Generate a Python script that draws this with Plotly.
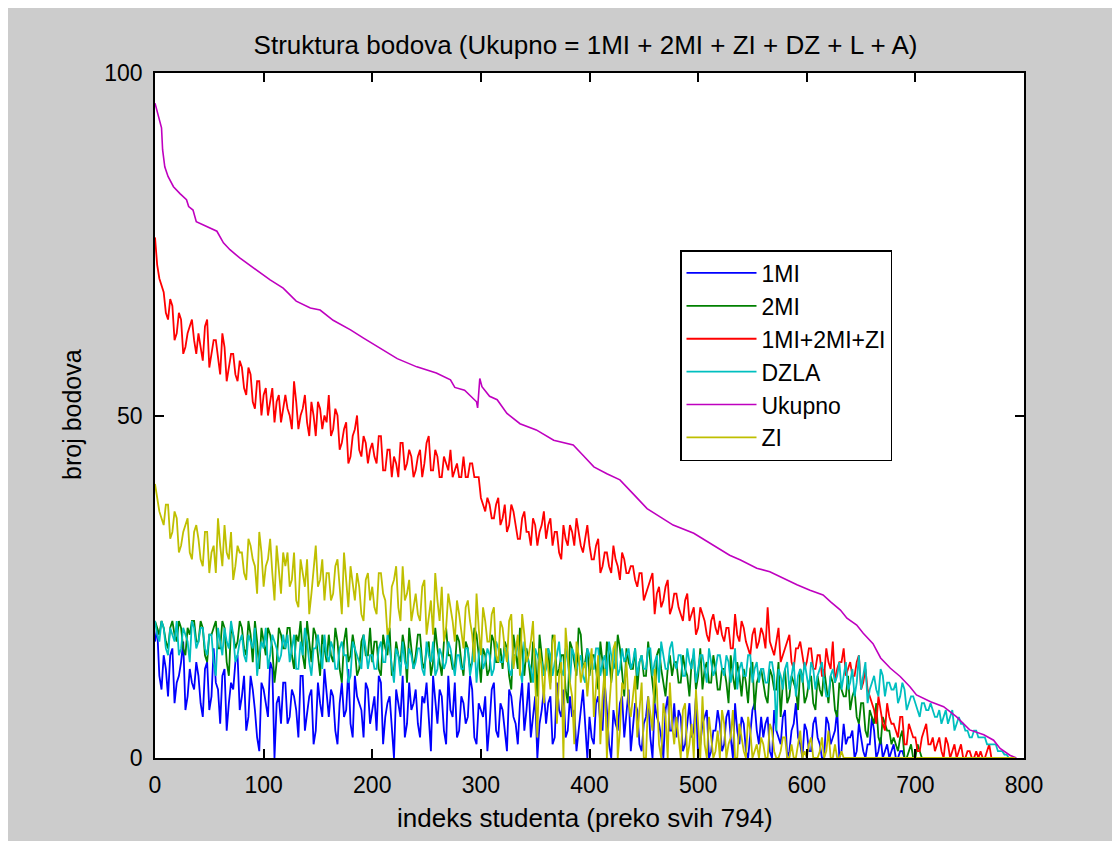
import plotly.graph_objects as go

# ---------------- data ----------------
# Noisy series: "_a" = values at student index 0, 4, 8, ... 792
#               "_b" = values at student index 2, 6, 10, ... 790
mi1_a = [17,12,15,9,16,11,14,7,13,10,
         12,6,14,9,11,5,13,8,10,15,
         9,4,12,7,1,10,6,13,8,5,
         11,6,9,3,12,7,10,4,8,13,
         6,9,2,11,7,5,12,8,3,10,
         7,4,11,6,9,0,8,12,5,7,
         10,3,8,6,12,5,9,2,7,11,
         4,8,6,10,2,7,9,5,11,3,
         7,1,9,5,8,4,11,6,0,7,
         5,9,3,7,10,4,6,1,8,5,
         6,2,9,4,7,0,5,8,3,10,
         4,7,1,6,3,8,5,0,9,4,
         3,6,2,8,4,0,5,7,1,4,
         5,2,7,0,4,6,1,3,8,2,
         3,6,0,4,2,7,1,5,3,0,
         4,1,6,2,0,5,3,7,1,2,
         3,0,5,1,2,6,0,3,1,0,
         2,0,1,0,0,0,0,0,0,0,
         0,0,0,0,0,0,0,0,0,0,
         0,0,0,0,0,0,0,0,0]
mi1_b = [19,10,13,15,8,12,17,9,11,14,
         8,13,7,16,10,12,4,11,14,7,
         12,6,10,3,11,8,14,0,9,11,
         5,10,7,12,4,9,2,11,6,9,
         10,4,8,6,13,3,9,7,11,5,
         9,12,2,8,5,10,6,3,11,8,
         5,9,11,1,8,10,4,12,6,3,
         9,5,12,3,8,6,1,10,4,8,
         4,10,6,2,11,7,3,9,5,10,
         8,2,11,6,3,9,7,4,10,0,
         3,8,5,11,2,7,4,9,6,1,
         8,2,5,9,0,6,3,7,4,8,
         7,1,5,3,9,2,6,0,4,7,
         1,6,3,8,2,5,0,7,4,6,
         5,1,7,3,6,0,4,8,2,5,
         1,5,3,0,6,2,4,0,5,3,
         4,1,3,0,2,4,1,0,2,1,
         0,1,0,0,0,0,0,0,0,0,
         0,0,0,0,0,0,0,0,0,0,
         0,0,0,0,0,0,0,0]

mi2_a = [20,18,19,16,20,17,19,15,18,20,
         17,19,14,18,20,16,19,12,18,17,
         19,15,18,20,13,17,19,16,14,18,
         16,19,13,17,15,20,14,18,12,16,
         18,14,17,11,19,15,16,13,18,15,
         14,17,12,16,19,13,15,18,11,16,
         15,18,13,17,14,16,12,19,15,13,
         17,12,16,14,18,11,15,13,17,14,
         13,16,10,15,19,12,14,17,9,15,
         14,11,17,13,15,8,16,12,18,14,
         12,15,10,14,17,11,13,16,9,14,
         13,10,15,12,14,8,16,11,13,12,
         14,11,13,9,15,12,10,14,11,13,
         10,13,8,12,14,9,11,13,7,12,
         11,8,12,10,6,13,9,11,7,12,
         9,12,7,10,13,8,11,6,10,9,
         7,10,5,8,3,6,8,2,5,4,
         3,1,4,0,2,0,1,0,0,0,
         0,0,0,0,0,0,0,0,0,0,
         0,0,0,0,0,0,0,0,0]
mi2_b = [19,20,17,19,18,20,16,19,20,17,
         20,15,18,19,16,20,14,19,16,20,
         16,20,14,17,19,15,18,11,19,16,
         19,15,18,20,13,17,19,15,18,14,
         15,19,13,17,14,18,12,17,15,19,
         17,13,18,15,12,17,14,16,19,13,
         18,14,16,12,19,14,17,15,13,18,
         14,17,13,19,15,16,12,18,14,16,
         17,12,18,13,15,16,11,15,18,12,
         16,18,12,15,10,17,14,19,13,16,
         15,13,17,11,15,14,18,12,16,13,
         16,14,12,17,11,15,13,9,15,14,
         11,15,12,14,10,16,13,11,15,10,
         13,11,15,10,12,13,8,14,11,13,
         9,13,10,14,11,8,12,10,13,8,
         11,8,12,9,10,12,7,11,9,12,
         9,6,8,4,7,5,3,6,4,2,
         2,3,0,1,0,2,0,0,0,0,
         0,0,0,0,0,0,0,0,0,0,
         0,0,0,0,0,0,0,0]

mi_zi_a = [76,70,68,64,66,62,64,60,63,61,
           62,58,64,59,61,56,60,57,59,55,
           57,53,56,51,55,53,50,54,52,49,
           53,50,55,48,51,49,52,47,51,50,
           53,48,50,46,49,44,48,45,47,43,
           46,43,47,42,45,44,41,46,43,44,
           42,45,43,47,42,44,41,43,45,42,
           41,44,41,43,41,38,36,37,35,38,
           35,33,37,34,32,36,33,35,31,34,
           32,35,33,30,34,31,33,35,31,32,
           31,29,32,28,30,27,29,26,29,27,
           28,25,27,24,26,21,25,23,26,22,
           24,21,23,20,22,19,21,18,20,19,
           20,17,19,16,18,20,17,15,19,17,
           18,22,16,17,14,16,18,13,16,15,
           14,16,13,15,12,14,17,13,14,12,
           14,12,15,11,10,8,5,7,4,6,
           5,3,6,2,4,3,1,4,2,3,
           2,1,3,0,2,1,0,1,0,1,
           1,0,2,0,0,0,0,0,0]
mi_zi_b = [72,69,65,67,61,65,59,62,64,59,
           60,63,57,61,58,62,55,59,56,58,
           54,57,52,55,50,54,52,49,53,51,
           51,48,52,50,53,47,50,52,48,49,
           47,51,45,48,43,47,50,44,46,45,
           44,47,42,45,41,43,46,42,45,41,
           44,41,46,42,45,41,44,42,41,43,
           41,41,43,41,41,37,38,35,37,34,
           37,34,36,32,35,33,31,34,33,36,
           34,31,33,29,32,34,31,33,30,34,
           29,31,27,30,28,31,28,30,27,28,
           26,27,23,25,27,24,22,25,21,24,
           22,20,24,21,18,22,20,17,21,18,
           18,19,16,21,17,19,16,18,16,19,
           16,17,15,19,15,17,14,16,17,13,
           16,13,15,12,16,13,11,14,16,13,
           12,14,10,13,9,7,9,5,8,5,
           4,6,2,5,3,1,3,5,2,1,
           3,0,2,1,0,2,0,1,0,0,
           0,1,0,0,0,0,0,0]

dzla_a = [20,17,19,15,18,20,16,18,14,19,
          17,19,15,18,12,17,19,16,18,15,
          18,14,17,19,15,16,13,18,16,15,
          16,14,18,13,15,17,12,16,15,18,
          14,16,13,17,15,12,16,14,18,13,
          15,13,17,14,16,11,15,17,13,15,
          14,16,12,15,17,13,15,14,16,12,
          15,13,16,14,11,17,14,15,13,16,
          14,16,12,15,13,17,14,11,15,14,
          13,15,14,17,12,14,16,13,15,11,
          15,13,16,14,12,15,17,13,14,16,
          14,12,15,13,16,14,11,15,13,17,
          13,15,12,14,16,13,15,11,14,13,
          15,12,14,13,10,14,12,15,13,11,
          13,11,14,4,12,13,10,14,12,11,
          12,14,10,13,11,9,13,12,10,14,
          11,9,15,12,8,11,10,13,9,11,
          10,8,11,7,9,8,6,8,7,7,
          6,5,7,6,4,6,5,4,3,4,
          3,3,2,2,1,1,0.5,0,0]
dzla_b = [18,20,16,19,17,15,19,17,20,16,
          19,16,18,14,19,15,17,20,14,17,
          15,18,16,12,17,19,15,17,14,18,
          18,16,13,17,19,14,16,18,13,15,
          17,13,16,15,11,17,15,13,16,15,
          13,16,14,18,13,16,12,14,16,13,
          16,13,17,14,12,16,13,17,14,15,
          13,16,12,17,15,13,16,12,17,14,
          16,13,15,17,11,15,13,16,14,12,
          16,12,15,13,16,11,15,14,12,16,
          13,16,12,15,17,13,12,16,15,13,
          16,14,13,16,12,15,17,13,16,14,
          15,12,16,13,11,15,13,16,12,15,
          13,15,11,16,13,12,15,11,14,13,
          11,14,12,13,10,14,12,9,13,14,
          10,13,12,14,9,12,11,14,12,10,
          13,11,10,14,10,12,9,12,11,10,
          11,9,10,8,9,7,8,7,8,6,
          7,6,5,7,5,5,4,3,4,3,
          3,2,2,2,1,0.5,0,0]

zi_a = [40,36,34,37,33,35,31,34,30,33,
        32,28,33,30,27,31,34,29,26,31,
        30,26,31,28,33,25,29,27,31,24,
        28,25,30,22,27,29,24,31,26,23,
        27,24,29,21,26,28,23,25,20,27,
        25,21,27,23,19,26,22,28,24,20,
        24,20,26,21,18,23,25,19,22,17,
        21,16,23,18,24,15,20,17,22,14,
        19,14,21,16,12,18,15,20,3,13,
        16,10,18,12,0,15,9,17,11,14,
        13,6,15,9,0,12,17,4,10,8,
        9,3,11,0,6,13,2,8,0,5,
        6,0,8,2,0,5,9,0,3,1,
        0,5,2,7,0,3,0,4,1,0,
        2,0,4,0,1,3,0,0,2,0,
        0,3,0,1,0,4,0,0,1,0,
        0,0,0,0,0,0,0,0,0,0,
        0,0,0,0,0,0,0,0,0,0,
        0,0,0,0,0,0,0,0,0,0,
        0,0,0,0,0,0,0,0,0]
zi_b = [38,35,37,32,36,30,33,35,29,34,
        29,33,27,31,35,28,30,33,28,30,
        27,32,29,24,30,28,32,23,28,30,
        30,26,23,29,25,21,28,25,29,27,
        23,28,25,30,22,25,27,21,26,23,
        22,27,24,18,25,28,20,23,26,22,
        21,25,18,23,27,20,17,24,20,23,
        18,22,20,14,19,22,17,21,15,20,
        16,20,13,18,21,14,17,11,16,8,
        13,17,5,14,19,11,2,15,13,9,
        16,10,2,13,7,16,0,11,14,6,
        12,7,0,9,4,10,0,6,11,2,
        3,7,0,5,10,0,2,6,0,4,
        7,0,3,0,5,1,6,0,2,3,
        0,5,1,0,3,0,2,0,4,1,
        2,0,0,3,1,0,2,0,0,0,
        0,0,0,0,0,0,0,0,0,0,
        0,0,0,0,0,0,0,0,0,0,
        0,0,0,0,0,0,0,0,0,0,
        0,0,0,0,0,0,0,0]

# total points (smooth curve, read at these student indices)
uk_idx = [0, 3, 6, 7, 9, 12, 17, 23, 29, 31, 35, 38, 48, 57, 63, 69, 78, 87, 97, 106,
          118, 130, 143, 152, 164, 180, 192, 210, 223, 241, 259, 272, 276, 285, 296, 297,
          299, 301, 308, 315, 324, 336, 351, 367, 385, 394, 404, 416, 428, 440, 453, 465,
          477, 496, 514, 529, 539, 554, 566, 579, 591, 603, 615, 622, 631, 637, 646, 652,
          661, 668, 677, 686, 695, 701, 714, 726, 738, 750, 763, 772, 778, 787, 793]
uk_val = [95.6, 93.6, 92.0, 88.8, 86.3, 84.9, 83.4, 82.4, 81.5, 80.5, 80.0, 78.3, 77.6,
          76.9, 75.2, 74.2, 73.0, 72.0, 70.8, 69.8, 68.6, 66.7, 65.7, 65.4, 63.9, 62.5,
          61.3, 59.6, 58.3, 57.1, 56.2, 55.2, 54.1, 53.7, 52.0, 51.1, 55.4, 54.2, 52.8,
          52.3, 50.3, 48.8, 47.9, 46.4, 45.7, 44.2, 42.5, 41.5, 40.6, 38.6, 36.4, 35.2,
          34.0, 32.8, 31.1, 29.6, 28.9, 27.7, 27.2, 26.2, 25.3, 24.5, 23.8, 22.8, 21.6,
          20.4, 19.4, 18.2, 16.7, 14.6, 13.1, 11.9, 10.4, 9.2, 8.2, 7.5, 6.0, 4.1, 3.4,
          2.6, 1.4, 0.4, 0.0]

x_ticks = [0, 100, 200, 300, 400, 500, 600, 700, 800]
y_ticks = [0, 50, 100]

# ---------------- figure ----------------
FW, FH = 1112, 833          # page body adds an 8px margin
ML, MT, MR, MB = 147, 65, 96, 83
PW = FW - ML - MR
PH = FH - MT - MB
FONT = "Arial, 'Liberation Sans', sans-serif"


def merge(a, b):
    xs, ys = [], []
    for i, v in enumerate(a):
        xs.append(4 * i)
        ys.append(v)
        if i < len(b):
            xs.append(4 * i + 2)
            ys.append(b[i])
    return xs, ys


fig = go.Figure()
traces = [
    ("1MI", *merge(mi1_a, mi1_b), "#0000ff", 1.8),
    ("2MI", *merge(mi2_a, mi2_b), "#008000", 1.8),
    ("1MI+2MI+ZI", *merge(mi_zi_a, mi_zi_b), "#ff0000", 1.8),
    ("DZLA", *merge(dzla_a, dzla_b), "#00bfbf", 1.8),
    ("Ukupno", uk_idx, uk_val, "#bf00bf", 1.6),
    ("ZI", *merge(zi_a, zi_b), "#bfbf00", 1.8),
]
for name, xs, ys, col, w in traces:
    fig.add_trace(go.Scatter(x=xs, y=ys, mode="lines", name=name,
                             line=dict(color=col, width=w)))

axis_common = dict(showgrid=False, zeroline=False, showline=True, linecolor="black",
                   linewidth=1.5, mirror="ticks", ticks="inside", ticklen=9,
                   tickwidth=1.5, tickcolor="black",
                   tickfont=dict(family=FONT, size=23, color="black"))
fig.update_xaxes(range=[0, 800], tickvals=x_ticks, ticklabelstandoff=6, **axis_common)
fig.update_yaxes(range=[0, 100], tickvals=y_ticks, ticklabelstandoff=6, **axis_common)

fig.update_layout(
    width=FW, height=FH, autosize=False,
    margin=dict(l=ML, r=MR, t=MT, b=MB, pad=0),
    paper_bgcolor="#cccccc", plot_bgcolor="white",
    font=dict(family=FONT, size=25, color="black"),
    title=dict(text="Struktura bodova (Ukupno = 1MI + 2MI + ZI + DZ + L + A)",
               x=(PW / 2 + ML - 4) / FW, xanchor="center",
               y=1 - 37 / FH, yanchor="middle", yref="container",
               font=dict(family=FONT, size=26, color="black")),
    showlegend=True,
    legend=dict(x=(680 - 155) / PW, y=(758 - 250) / PH, xanchor="left", yanchor="top",
                bgcolor="white", bordercolor="black", borderwidth=1.5,
                itemwidth=70, entrywidth=186, entrywidthmode="pixels",
                font=dict(family=FONT, size=23, color="black"), tracegroupgap=0),
    annotations=[
        dict(text="indeks studenta (preko svih 794)", xref="paper", yref="paper",
             x=0.5 - 5 / PW, y=(758 - 818) / PH, xanchor="center", yanchor="middle",
             showarrow=False, font=dict(family=FONT, size=26, color="black")),
        dict(text="broj bodova", xref="paper", yref="paper",
             x=(72 - 155) / PW, y=(758 - 415) / PH, xanchor="center", yanchor="middle",
             textangle=-90, showarrow=False, font=dict(family=FONT, size=25, color="black")),
    ],
)

fig.write_html("out.html")
